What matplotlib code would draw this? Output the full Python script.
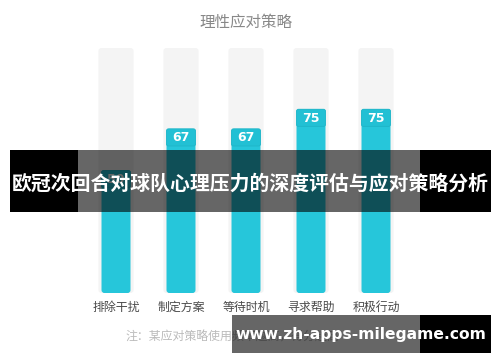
import matplotlib
matplotlib.use('Agg')
import matplotlib.pyplot as plt
from matplotlib.patches import FancyBboxPatch, Rectangle

plt.rcParams['font.family'] = ['Noto Sans CJK SC', 'DejaVu Sans']

categories = ['排除干扰', '制定方案', '等待时机', '寻求帮助', '积极行动']
values = [50, 67, 67, 75, 75]
full_value = 100
title = '理性应对策略'
note = '注：某应对策略使用频率越高，得分越高'
banner = '欧冠次回合对球队心理压力的深度评估与应对策略分析'
watermark = 'www.zh-apps-milegame.com'

W, H = 500, 362
fig = plt.figure(figsize=(W / 100, H / 100), dpi=100)

# main chart axes placed in pixels
left_px, bottom_px, top_px = 83.5, 293, 48
ax = fig.add_axes([left_px / W, (H - bottom_px) / H, 325 / W, (bottom_px - top_px) / H])
ax.set_xlim(-0.5, len(categories) - 0.5)
ax.set_ylim(0, full_value)
ax.axis('off')

aspect = (full_value / (bottom_px - top_px)) / (1 / 65)

def rbar(x, h, w, color, z):
    p = FancyBboxPatch((x - w / 2, 0), w, h,
                       boxstyle='round,pad=0,rounding_size=0.045',
                       mutation_aspect=aspect, fc=color, ec='none', zorder=z)
    ax.add_patch(p)

for i, (cat, v) in enumerate(zip(categories, values)):
    rbar(i, full_value, 0.54, '#F4F4F4', 1)
    rbar(i, v, 0.446, '#26C6DA', 2)
    box = FancyBboxPatch((i - 0.223, v - 7), 0.446, 7,
                         boxstyle='round,pad=0,rounding_size=0.03',
                         mutation_aspect=aspect, fc='#22C0D4', ec='#1FB5C8',
                         lw=0.6, zorder=3)
    ax.add_patch(box)
    ax.text(i, v - 3.6, str(v), ha='center', va='center', color='white',
            fontsize=9, fontweight='bold', family='DejaVu Sans', zorder=4)
    ax.text(i, -5.8, cat, ha='center', va='center', color='#4A4A4A', fontsize=8.6)

# overlay axes in pixel coordinates
ov = fig.add_axes([0, 0, 1, 1], facecolor='none')
ov.set_xlim(0, W)
ov.set_ylim(H, 0)
ov.axis('off')

ov.text(246, 22, title, ha='center', va='center', color='#888888', fontsize=11.2)
ov.text(125, 337, note, ha='left', va='center', color='#BBBBBB', fontsize=8.6)

# banner
ov.add_patch(Rectangle((10, 150), 68, 62, fc='black', ec='none', zorder=5))
ov.add_patch(Rectangle((420, 150), 71, 62, fc='black', ec='none', zorder=5))
ov.add_patch(Rectangle((78, 150), 342, 62, fc='black', alpha=0.6, ec='none', zorder=5))
ov.text(250.5, 183, banner, ha='center', va='center', color='white',
        fontsize=14.3, fontweight='bold', zorder=6)

# watermark
ov.add_patch(Rectangle((232, 315), 188, 38, fc='black', alpha=0.6, ec='none', zorder=5))
ov.add_patch(Rectangle((420, 315), 71, 38, fc='black', ec='none', zorder=5))
ov.text(360.5, 334, watermark, ha='center', va='center', color='white',
        fontsize=11.2, fontweight='bold', family='DejaVu Sans', zorder=6)

fig.savefig('out.png', dpi=100)
